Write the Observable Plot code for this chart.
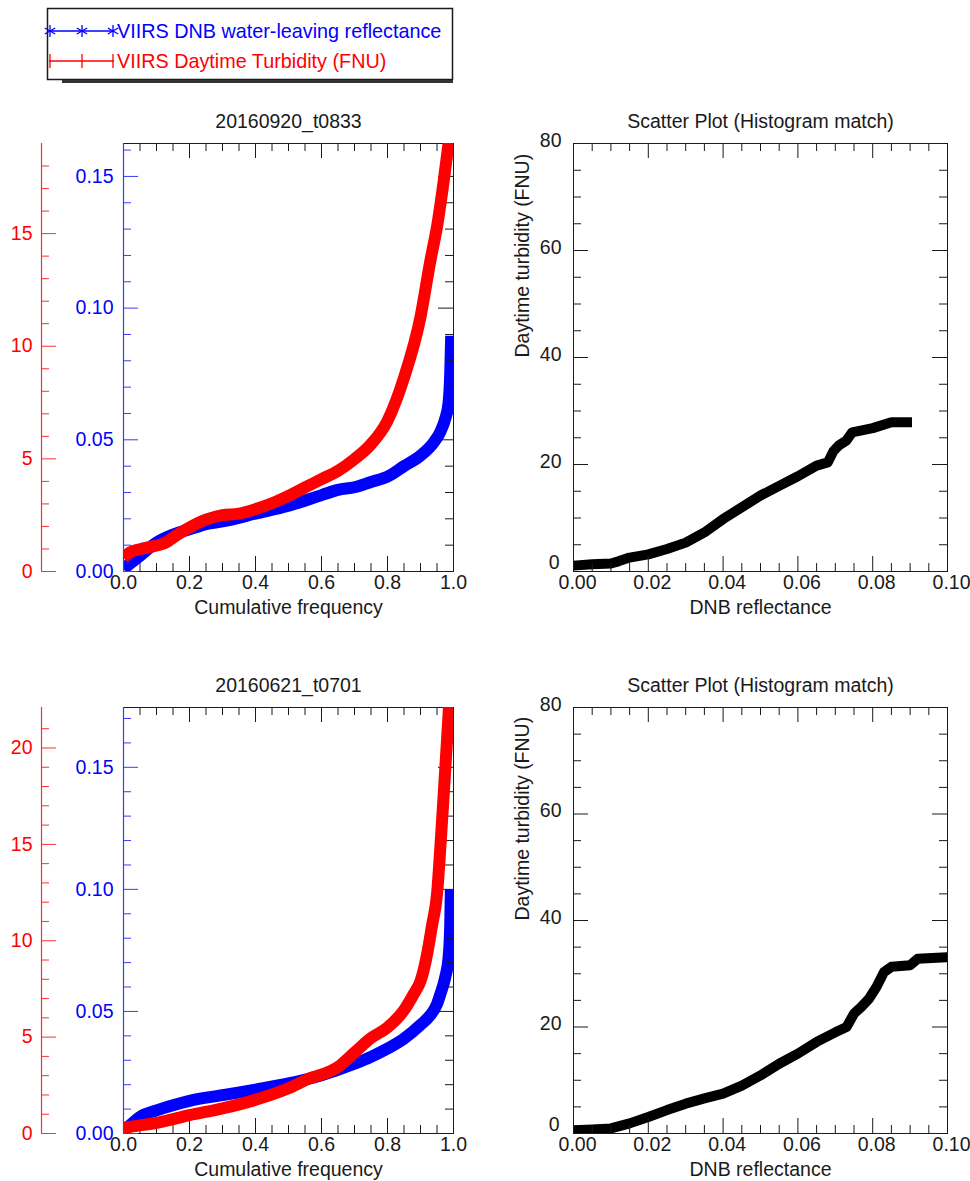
<!DOCTYPE html>
<html><head><meta charset="utf-8">
<script src="https://cdn.jsdelivr.net/npm/d3@7"></script>
<script src="https://cdn.jsdelivr.net/npm/@observablehq/plot@0.6"></script>
<style>
body{margin:0;background:#fff;font-family:"Liberation Sans",Arial,Helvetica,sans-serif;}
#root{position:relative;width:970px;height:1181px;overflow:hidden;background:#fff;}
</style></head><body><div id="root"></div>
<script>
// ---------------- DATA ----------------
const legendLabels = ["VIIRS DNB water-leaving reflectance", "VIIRS Daytime Turbidity (FNU)"];
const titlesLeft = ["20160920_t0833", "20160621_t0701"];
const titleRight = "Scatter Plot (Histogram match)";
const xLabelLeft = "Cumulative frequency";
const xLabelRight = "DNB reflectance";
const yLabelRight = "Daytime turbidity (FNU)";

// Panel A (20160920_t0833): blue = DNB reflectance vs cumulative frequency
const cumFreqBlueA = [0, 0.02, 0.05, 0.1, 0.15, 0.2, 0.25, 0.3, 0.4, 0.5, 0.6, 0.65, 0.7, 0.75, 0.8, 0.85, 0.9, 0.94, 0.96, 0.975, 0.985, 0.99, 0.993];
const dnbReflA     = [0.001, 0.003, 0.006, 0.011, 0.014, 0.016, 0.018, 0.019, 0.022, 0.025, 0.029, 0.031, 0.032, 0.034, 0.036, 0.040, 0.044, 0.049, 0.053, 0.058, 0.064, 0.075, 0.0895];
// red = turbidity (FNU)
const cumFreqRedA = [0, 0.02, 0.05, 0.1, 0.13, 0.15, 0.2, 0.25, 0.3, 0.35, 0.4, 0.45, 0.5, 0.55, 0.6, 0.65, 0.7, 0.75, 0.8, 0.85, 0.9, 0.93, 0.95, 0.97, 0.985, 0.99];
const turbA       = [0.6, 0.85, 0.99, 1.15, 1.3, 1.5, 1.95, 2.3, 2.5, 2.57, 2.77, 3.03, 3.36, 3.73, 4.1, 4.47, 4.99, 5.65, 6.69, 8.6, 11.3, 13.8, 15.3, 17.3, 19.0, 19.6];

// Panel B (20160621_t0701)
const cumFreqBlueB = [0, 0.02, 0.05, 0.1, 0.15, 0.2, 0.3, 0.4, 0.5, 0.6, 0.7, 0.75, 0.8, 0.85, 0.9, 0.93, 0.95, 0.96, 0.975, 0.985, 0.99, 0.992];
const dnbReflB     = [0.0007, 0.0034, 0.0068, 0.0095, 0.0116, 0.0134, 0.0157, 0.018, 0.0205, 0.0239, 0.0286, 0.0314, 0.0348, 0.0389, 0.0445, 0.0485, 0.053, 0.057, 0.064, 0.072, 0.085, 0.1];
const cumFreqRedB = [0, 0.05, 0.1, 0.2, 0.3, 0.4, 0.5, 0.57, 0.6, 0.65, 0.7, 0.75, 0.8, 0.85, 0.88, 0.9, 0.92, 0.935, 0.95, 0.96, 0.97, 0.98, 0.988];
const turbB       = [0.3, 0.42, 0.55, 0.95, 1.3, 1.75, 2.35, 2.9, 3.05, 3.45, 4.2, 4.95, 5.5, 6.4, 7.25, 7.9, 9.3, 10.8, 12.4, 14.8, 17.5, 20.3, 22.6];

// Scatter (histogram match) A
const scatReflA = [0, 0.005, 0.01, 0.012, 0.015, 0.02, 0.025, 0.03, 0.035, 0.04, 0.045, 0.05, 0.055, 0.06, 0.065, 0.068, 0.0695, 0.071, 0.073, 0.0745, 0.08, 0.085, 0.0905];
const scatTurbA = [1.1, 1.35, 1.5, 1.9, 2.6, 3.2, 4.2, 5.4, 7.3, 9.8, 12.0, 14.2, 16.0, 17.8, 19.8, 20.4, 22.5, 23.6, 24.5, 26.0, 26.8, 27.9, 27.9];
// Scatter B
const scatReflB = [0, 0.005, 0.01, 0.015, 0.02, 0.025, 0.03, 0.035, 0.04, 0.045, 0.05, 0.055, 0.06, 0.065, 0.07, 0.073, 0.075, 0.077, 0.079, 0.081, 0.083, 0.085, 0.09, 0.092, 0.1];
const scatTurbB = [0.6, 0.75, 0.95, 1.9, 3.1, 4.4, 5.6, 6.6, 7.5, 9.0, 10.9, 13.1, 15.0, 17.2, 19.0, 20.0, 22.5, 23.8, 25.3, 27.5, 30.3, 31.3, 31.6, 32.8, 33.1];

// Axis ticks
const cfMajor = [0, 0.2, 0.4, 0.6, 0.8, 1.0];
const cfMajorLabels = ["0.0", "0.2", "0.4", "0.6", "0.8", "1.0"];
const cfMinor = [0.05, 0.1, 0.15, 0.25, 0.3, 0.35, 0.45, 0.5, 0.55, 0.65, 0.7, 0.75, 0.85, 0.9, 0.95];
const blueMajor = [0, 0.05, 0.10, 0.15];
const blueMajorLabels = ["0.00", "0.05", "0.10", "0.15"];
const blueMinorA = [0.01, 0.02, 0.03, 0.04, 0.06, 0.07, 0.08, 0.09, 0.11, 0.12, 0.13, 0.14, 0.16];
const blueMinorB = [0.01, 0.02, 0.03, 0.04, 0.06, 0.07, 0.08, 0.09, 0.11, 0.12, 0.13, 0.14, 0.16, 0.17];
const redMajorA = [0, 5, 10, 15];
const redMinorA = [1, 2, 3, 4, 6, 7, 8, 9, 11, 12, 13, 14, 16, 17, 18];
const redMajorB = [0, 5, 10, 15, 20];
const redMinorB = [1, 2, 3, 4, 6, 7, 8, 9, 11, 12, 13, 14, 16, 17, 18, 19, 21];
const blueMaxA = 0.1625, redMaxA = 19.0;
const blueMaxB = 0.1745, redMaxB = 22.1;

const reflMajor = [0, 0.02, 0.04, 0.06, 0.08, 0.10];
const reflMajorLabels = ["0.00", "0.02", "0.04", "0.06", "0.08", "0.10"];
const reflMinor = [0.005, 0.01, 0.015, 0.025, 0.03, 0.035, 0.045, 0.05, 0.055, 0.065, 0.07, 0.075, 0.085, 0.09, 0.095];
const turbMajor = [0, 20, 40, 60, 80];
const turbMinor = [5, 10, 15, 25, 30, 35, 45, 50, 55, 65, 70, 75];

// ---------------- DRAWING ----------------
const FONT = '"Liberation Sans", Arial, Helvetica, sans-serif';
const FS = "19.5px";
const INK = "#1a1a1a";
const root = document.getElementById("root");

function zip(xs, ys) { return xs.map((x, i) => ({x, y: ys[i]})); }
function place(el, left, top) {
  el.style.position = "absolute";
  el.style.left = left + "px";
  el.style.top = top + "px";
  root.appendChild(el);
}
function fmt(values, labels) { return d => labels[values.findIndex(v => Math.abs(v - d) < 1e-9)] ?? String(d); }

function frameTicks(xMaj, xMin, yMaj, yMin, pw, ph, withLeft) {
  const m = [
    Plot.tickX(xMaj, {x: d => d, stroke: INK, insetTop: ph - 15}),
    Plot.tickX(xMin, {x: d => d, stroke: INK, insetTop: ph - 8}),
    Plot.tickX(xMaj, {x: d => d, stroke: INK, insetBottom: ph - 15}),
    Plot.tickX(xMin, {x: d => d, stroke: INK, insetBottom: ph - 8}),
    Plot.tickY(yMaj, {y: d => d, stroke: INK, insetLeft: pw - 15}),
    Plot.tickY(yMin, {y: d => d, stroke: INK, insetLeft: pw - 8})
  ];
  if (withLeft) m.push(
    Plot.tickY(yMaj, {y: d => d, stroke: INK, insetRight: pw - 15}),
    Plot.tickY(yMin, {y: d => d, stroke: INK, insetRight: pw - 8})
  );
  return m;
}

function leftPanel({top, height, mt, mb, title, blue, red, blueMax, redMax, blueMinor, redMajor, redMinor}) {
  const W = 480, ML = 123, MR = 27;
  const pw = W - ML - MR, ph = height - mt - mb;
  const common = {width: W, height, marginLeft: ML, marginRight: MR, marginTop: mt, marginBottom: mb,
    style: {fontFamily: FONT, fontSize: FS, background: "transparent", overflow: "visible", color: INK}};
  const base = Plot.plot({
    ...common,
    x: {domain: [0, 1], axis: null},
    y: {domain: [0, blueMax], axis: null},
    marks: [
      Plot.line(blue, {x: "x", y: "y", stroke: "#0000ff", strokeWidth: 12, strokeLinecap: "butt", curve: "monotone-x", clip: true}),
      ...frameTicks(cfMajor, cfMinor, blueMajor, blueMinor, pw, ph, false),
      Plot.frame({stroke: INK}),
      Plot.ruleX([0], {stroke: "#3a3aff", strokeWidth: 1.2}),
      Plot.tickY(blueMajor, {y: d => d, stroke: "#3a3aff", insetRight: pw - 15}),
      Plot.tickY(blueMinor, {y: d => d, stroke: "#3a3aff", insetRight: pw - 8}),
      Plot.axisY({ticks: blueMajor, tickSize: 0, tickPadding: 10, fill: "#0000ff", label: null, tickFormat: fmt(blueMajor, blueMajorLabels)}),
      Plot.axisX({ticks: cfMajor, tickSize: 0, tickPadding: 4, fill: INK, label: null, tickFormat: fmt(cfMajor, cfMajorLabels)}),
      Plot.text([title], {frameAnchor: "top", dy: -22, lineAnchor: "middle", fill: INK}),
      Plot.text([xLabelLeft], {frameAnchor: "bottom", dy: 36, lineAnchor: "middle", fill: INK})
    ]
  });
  place(base, 0, top);
  const over = Plot.plot({
    ...common,
    x: {domain: [0, 1], axis: null},
    y: {domain: [0, redMax], axis: null},
    marks: [
      Plot.line(red, {x: "x", y: "y", stroke: "#ff0000", strokeWidth: 12, strokeLinecap: "butt", curve: "monotone-x", clip: true}),
      Plot.ruleX([0], {stroke: "#ff3030", strokeWidth: 1.2, dx: -82}),
      Plot.tickY(redMajor, {y: d => d, stroke: "#ff3030", dx: -82, insetRight: pw - 15}),
      Plot.tickY(redMinor, {y: d => d, stroke: "#ff3030", dx: -82, insetRight: pw - 8}),
      Plot.axisY({ticks: redMajor, tickSize: 0, tickPadding: 9, dx: -82, fill: "#ff0000", label: null, tickFormat: d => String(d)})
    ]
  });
  place(over, 0, top);
}

function rightPanel({top, height, mt, mb, scat}) {
  const W = 490, ML = 93, MR = 23;
  const pw = W - ML - MR, ph = height - mt - mb;
  const p = Plot.plot({
    width: W, height, marginLeft: ML, marginRight: MR, marginTop: mt, marginBottom: mb,
    style: {fontFamily: FONT, fontSize: FS, background: "transparent", overflow: "visible", color: INK},
    x: {domain: [0, 0.1], axis: null},
    y: {domain: [0, 80], axis: null},
    marks: [
      Plot.line(scat, {x: "x", y: "y", stroke: "#000", strokeWidth: 10, strokeLinecap: "butt", clip: true}),
      ...frameTicks(reflMajor, reflMinor, turbMajor, turbMinor, pw, ph, true),
      Plot.frame({stroke: INK}),
      Plot.axisY({ticks: turbMajor.slice(1), tickSize: 0, tickPadding: 12, dy: -3, fill: INK, label: null, tickFormat: d => String(d)}),
      Plot.axisY({ticks: turbMajor.slice(0, 1), tickSize: 0, tickPadding: 14, dy: -9, fill: INK, label: null, tickFormat: d => String(d)}),
      Plot.axisX({ticks: reflMajor, tickSize: 0, tickPadding: 4, dx: 4, fill: INK, label: null, tickFormat: fmt(reflMajor, reflMajorLabels)}),
      Plot.text([titleRight], {frameAnchor: "top", dy: -22, lineAnchor: "middle", fill: INK}),
      Plot.text([xLabelRight], {frameAnchor: "bottom", dy: 36, lineAnchor: "middle", fill: INK}),
      Plot.text([yLabelRight], {frameAnchor: "left", dx: -51, rotate: -90, lineAnchor: "middle", fill: INK})
    ]
  });
  place(p, 480, top);
}

leftPanel({top: 95, height: 540, mt: 48, mb: 64, title: titlesLeft[0],
  blue: zip(cumFreqBlueA, dnbReflA), red: zip(cumFreqRedA, turbA),
  blueMax: blueMaxA, redMax: redMaxA, blueMinor: blueMinorA, redMajor: redMajorA, redMinor: redMinorA});
leftPanel({top: 660, height: 520, mt: 47, mb: 47, title: titlesLeft[1],
  blue: zip(cumFreqBlueB, dnbReflB), red: zip(cumFreqRedB, turbB),
  blueMax: blueMaxB, redMax: redMaxB, blueMinor: blueMinorB, redMajor: redMajorB, redMinor: redMinorB});
rightPanel({top: 95, height: 540, mt: 48, mb: 64, scat: zip(scatReflA, scatTurbA)});
rightPanel({top: 660, height: 520, mt: 47, mb: 47, scat: zip(scatReflB, scatTurbB)});

// ---------------- LEGEND ----------------
(function legend() {
  const ns = "http://www.w3.org/2000/svg";
  const svg = document.createElementNS(ns, "svg");
  svg.setAttribute("width", 470); svg.setAttribute("height", 92);
  const colors = ["#0000ff", "#ff0000"];
  const rows = [31, 61];
  const markX = [50, 82, 113];
  let html = `<rect x="47.5" y="8.5" width="405" height="71" fill="#fff" stroke="${INK}" stroke-width="1.5"/>`;
  html += `<line x1="62" y1="81.5" x2="453" y2="81.5" stroke="#333" stroke-width="3"/>`;
  legendLabels.forEach((lab, i) => {
    const y = rows[i], c = colors[i];
    html += `<line x1="49" y1="${y}" x2="114" y2="${y}" stroke="${c}" stroke-width="1.3"/>`;
    markX.forEach(x => {
      if (i === 0) {
        for (const a of [90, 30, 150]) {
          const r = 6, dxp = r * Math.cos(a * Math.PI / 180), dyp = r * Math.sin(a * Math.PI / 180);
          html += `<line x1="${x - dxp}" y1="${y - dyp}" x2="${x + dxp}" y2="${y + dyp}" stroke="${c}" stroke-width="1.3"/>`;
        }
      } else {
        html += `<line x1="${x}" y1="${y - 7}" x2="${x}" y2="${y + 7}" stroke="${c}" stroke-width="1.3"/>`;
      }
    });
    html += `<text x="117" y="${y}" dy="0.35em" fill="${c}" font-family='${FONT}' font-size="19.8">${lab}</text>`;
  });
  svg.innerHTML = html;
  place(svg, 0, 0);
})();
</script></body></html>
